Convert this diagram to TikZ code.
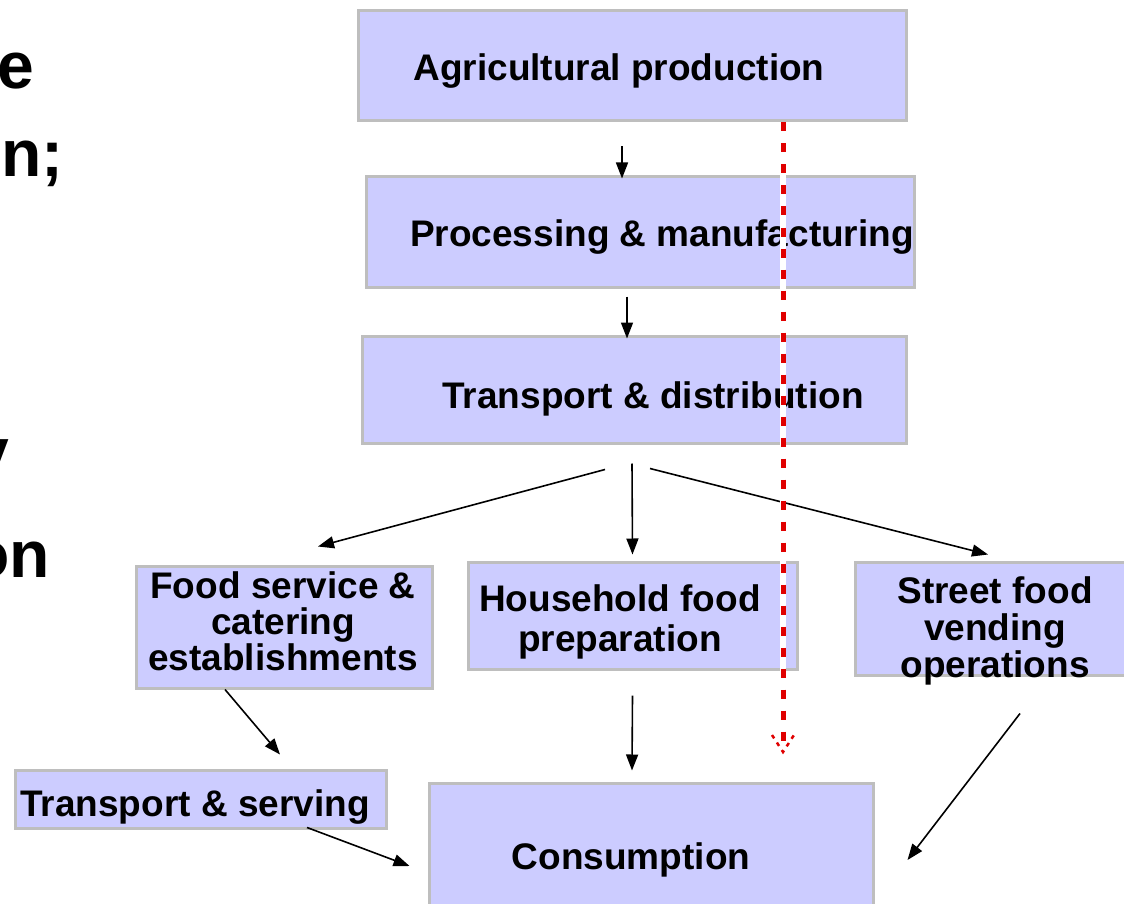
\documentclass[tikz,border=0pt]{standalone}
\usepackage{fontspec}
\setmainfont{Liberation Sans}
\usetikzlibrary{arrows.meta}
\definecolor{boxfill}{HTML}{CCCCFF}
\definecolor{boxline}{HTML}{BEBEBE}
\definecolor{redline}{HTML}{E00000}
\begin{document}
\begin{tikzpicture}[x=1pt,y=-1pt,
  box/.style={draw=boxline, fill=boxfill, line width=3pt, rectangle, inner sep=0pt},
  lbl/.style={font=\bfseries\fontsize{37}{37}\selectfont, inner sep=0pt, anchor=base, align=center},
  big/.style={font=\bfseries\fontsize{66}{66}\selectfont, inner sep=0pt, anchor=base west},
  arr/.style={line width=1.6pt, -{Triangle[length=16pt,width=12pt]}},
]
\useasboundingbox (0,0) rectangle (1124,904);
\begin{scope}
\clip (0,0) rectangle (1124,904);
% cut-off slide text on the left
\node[big] (t1) at (-3,89) {e};
\node[big] (t2) at (1,177) {n;};
\node[big] (t3) at (-28,474) {y};
\node[big] (t4) at (-31,577) {on};

% boxes
\node[box, minimum width=548pt, minimum height=110pt] (agri) at (632,66) {};
\node[box, minimum width=548pt, minimum height=110pt] (proc) at (640,232) {};
\node[box, minimum width=544pt, minimum height=107pt] (trans) at (634,389.5) {};
\node[box, minimum width=296pt, minimum height=122pt] (food) at (284,627) {};
\node[box, minimum width=329pt, minimum height=107pt] (house) at (632.5,615.5) {};
\node[box, minimum width=275pt, minimum height=113pt] (street) at (992.5,618.5) {};
\node[box, minimum width=371pt, minimum height=58pt] (tserv) at (200.5,799) {};
\node[box, minimum width=444pt, minimum height=132pt] (cons) at (651,849) {};

% labels (multi-line: anchor base = last line's baseline)
\node[lbl] (agrit) at (619,81) {Agricultural production};
\node[lbl] (proct) at (662,246) {Processing \& manufacturing};
\node[lbl] (transt) at (653,408) {Transport \& distribution};
\node[lbl] (foodt) at (283,670) {Food service \&\\[-1pt]catering\\[-1pt]establishments};
\node[lbl] (houset) at (620,651) {Household food\\[3pt]preparation};
\node[lbl] (streett) at (995,677) {Street food\\vending\\operations};
\node[lbl] (tservt) at (195,816) {Transport \& serving};
\node[lbl] (const) at (631,869) {Consumption};

% connectors
\draw[arr] ([shift={(-10,24)}]agri.south) -- ([shift={(-18,3)}]proc.north);
\draw[arr] ([shift={(-13,8)}]proc.south) -- ([shift={(-7,4)}]trans.north);
\draw[arr] ([shift={(-29,25)}]trans.south) -- ([shift={(34,-18)}]food.north);
\draw[arr] ([shift={(-2,19)}]trans.south) -- ([shift={(0,-6)}]house.north);
\draw[arr] ([shift={(16,24)}]trans.south) -- ([shift={(-4.5,-6)}]street.north);
\draw[arr] ([shift={(0,25)}]house.south) -- ([shift={(-19,-11)}]cons.north);
\draw[arr] ([shift={(-59,0)}]food.south) -- ([shift={(79.5,-14)}]tserv.north);
\draw[arr] ([shift={(106.5,-2)}]tserv.south) -- ([shift={(-18,17)}]cons.west);
\draw[arr] ([shift={(27.5,37)}]street.south) -- ([shift={(33,11)}]cons.east);

% red dotted line with broken arrowhead
\coordinate (rbot) at (783,752);
\draw[white, line width=6pt] ([xshift=151pt]agri.south) -- ([yshift=8pt]rbot);
\draw[redline, line width=5pt, dash pattern=on 9pt off 12pt]
      ([xshift=151pt]agri.south) -- ([yshift=10pt]rbot);
\draw[redline, line width=2.5pt, dash pattern=on 4pt off 5pt]
      ([shift={(-11,-17)}]rbot) -- (rbot) -- ([shift={(11,-17)}]rbot);
\end{scope}
\end{tikzpicture}
\end{document}
